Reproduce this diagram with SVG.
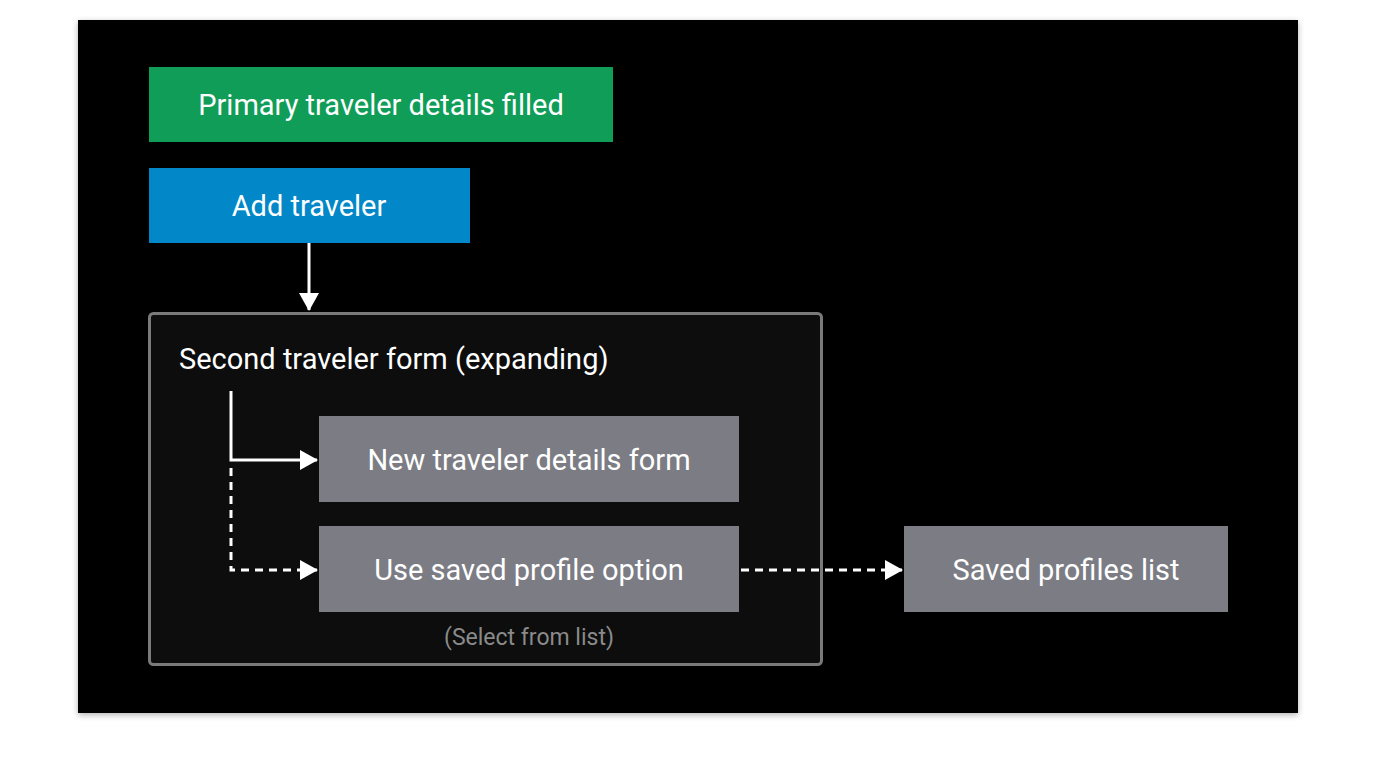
<svg xmlns="http://www.w3.org/2000/svg" width="1376" height="768" viewBox="0 0 1376 768">
<defs>
<style>
text{font-family:Roboto,"Liberation Sans",sans-serif;fill:#fff}
.lbl{font-size:29px;text-anchor:middle;dominant-baseline:central}
.ln{stroke:#fff;stroke-width:3;fill:none}
.dash{stroke-dasharray:8 6}
.gray{fill:#7b7c84}
</style>
<marker id="ah" viewBox="0 0 10 10" refX="9" refY="5" markerWidth="6" markerHeight="6" markerUnits="userSpaceOnUse" orient="auto"><path d="M0,0L10,5L0,10z" fill="#fff" transform="scale(1)"/></marker>
<marker id="a" viewBox="0 0 18 20" refX="17" refY="10" markerWidth="18" markerHeight="20" markerUnits="userSpaceOnUse" orient="auto"><path d="M0,0L18,10L0,20z" fill="#fff"/></marker>
<filter id="sh" x="-5%" y="-5%" width="110%" height="110%"><feDropShadow dx="0" dy="2" stdDeviation="3" flood-opacity="0.3"/></filter>
</defs>
<rect width="1376" height="768" fill="#fff"/>
<rect x="78" y="20" width="1220" height="693" fill="#000" filter="url(#sh)"/>
<g id="primary"><rect x="149" y="67" width="464" height="75" fill="#0f9d58"/><text x="381" y="105" class="lbl">Primary traveler details filled</text></g>
<g id="add"><rect x="149" y="168" width="321" height="75" fill="#0288c8"/><text x="309" y="206" class="lbl">Add traveler</text></g>
<g id="second"><rect x="149.5" y="313.5" width="672" height="351" rx="4" fill="#0d0d0d" stroke="#7a7a7a" stroke-width="3"/><text x="179" y="359" font-size="29" dominant-baseline="central">Second traveler form (expanding)</text><text x="529" y="637" class="lbl" font-size="23" style="fill:#8a8a8a;font-size:23px">(Select from list)</text></g>
<g id="newform"><rect x="319" y="416" width="420" height="86" class="gray"/><text x="529" y="460" class="lbl">New traveler details form</text></g>
<g id="saved"><rect x="319" y="526" width="420" height="86" class="gray"/><text x="529" y="570" class="lbl">Use saved profile option</text></g>
<g id="list"><rect x="904" y="526" width="324" height="86" class="gray"/><text x="1066" y="570" class="lbl">Saved profiles list</text></g>
<g id="connectors">
<path d="M309,243V310" class="ln" marker-end="url(#a)"/>
<path d="M231,391V460H317" class="ln" marker-end="url(#a)"/>
<path d="M231,468V570H317" class="ln dash" marker-end="url(#a)"/>
<path d="M741,570H902" class="ln dash" marker-end="url(#a)"/>
</g>
</svg>
